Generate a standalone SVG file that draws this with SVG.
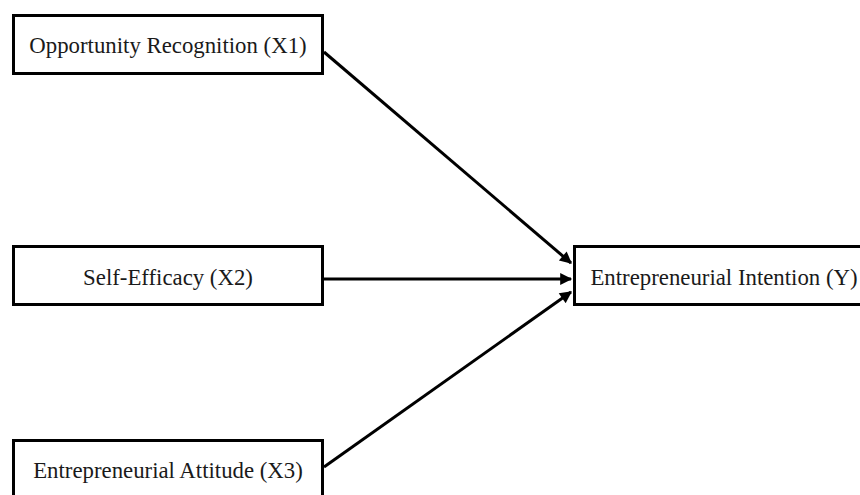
<svg xmlns="http://www.w3.org/2000/svg" width="860" height="495" viewBox="0 0 860 495">
<style>
.box{fill:#fff;stroke:#000;stroke-width:3}
.lbl{font-family:"Liberation Serif","Times New Roman",serif;font-size:22.8px;fill:#1a1a1a;text-anchor:middle}
.edge{stroke:#000;stroke-width:3;fill:none;marker-end:url(#ah)}
</style>
<defs>
<marker id="ah" viewBox="0 0 10 10" refX="9" refY="5" markerWidth="5" markerHeight="4" markerUnits="strokeWidth" orient="auto">
<path d="M0,0 L10,5 L0,10 z" fill="#000"/>
</marker>
</defs>
<rect width="860" height="495" fill="#fff"/>
<g id="edges">
<line class="edge" x1="324" y1="52" x2="571" y2="263"/>
<line class="edge" x1="324" y1="279" x2="571" y2="279"/>
<line class="edge" x1="324" y1="467" x2="571" y2="292"/>
</g>
<g id="x1">
<rect class="box" x="13.5" y="15.5" width="309" height="58"/>
<text class="lbl" x="168" y="52.5">Opportunity Recognition (X1)</text>
</g>
<g id="x2">
<rect class="box" x="13.5" y="246.5" width="309" height="58"/>
<text class="lbl" x="168" y="285">Self-Efficacy (X2)</text>
</g>
<g id="x3">
<rect class="box" x="13.5" y="440.5" width="309" height="58"/>
<text class="lbl" x="168" y="477.5">Entrepreneurial Attitude (X3)</text>
</g>
<g id="y">
<rect class="box" x="574.5" y="246.5" width="300" height="58"/>
<text class="lbl" x="724" y="285">Entrepreneurial Intention (Y)</text>
</g>
</svg>
